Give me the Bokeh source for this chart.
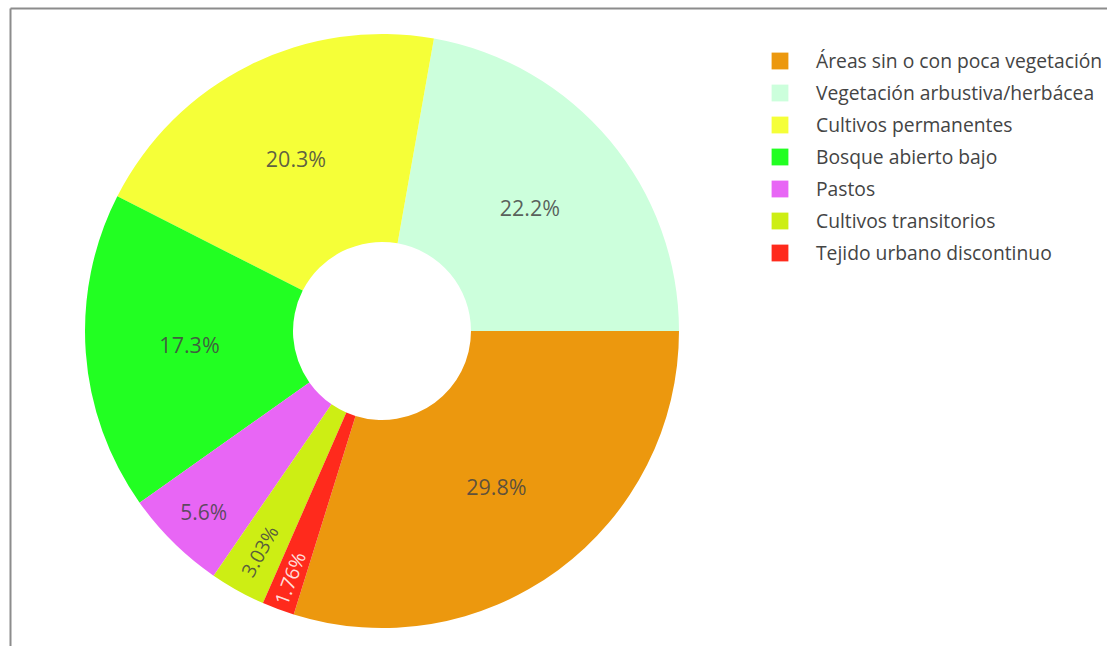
import math
from bokeh.plotting import figure
from bokeh.models import ColumnDataSource, Range1d, Legend, LegendItem
from bokeh.core.properties import value
from bokeh.embed import file_html
from bokeh.resources import INLINE

# ---- data ----
CATEGORIES = [
    "Áreas sin o con poca vegetación",
    "Vegetación arbustiva/herbácea",
    "Cultivos permanentes",
    "Bosque abierto bajo",
    "Pastos",
    "Cultivos transitorios",
    "Tejido urbano discontinuo",
]
VALUES = [29.8, 22.2, 20.3, 17.3, 5.6, 3.03, 1.76]
LABELS = ["29.8%", "22.2%", "20.3%", "17.3%", "5.6%", "3.03%", "1.76%"]

# ---- styles ----
COLORS = ["#EC980E", "#CCFFDC", "#F5FF38", "#22FF22", "#E866F5", "#CDEE14", "#FF2A1C"]
TEXT_COLORS = ["#444444"] * 6 + ["#FFFFFF"]
LABEL_RADIUS = [193, 193, 193, 193, 254, 252, 264]
LABEL_SIZES = ["21.5px", "21.5px", "21.5px", "21.5px", "21px", "19.5px", "19.5px"]

W, H = 1107, 646
CX, CY = 381.5, H - 330.5
R_OUT, R_IN = 297, 89
FONT = "Open Sans"

total = sum(VALUES)
start = -2 * math.pi * VALUES[0] / total
starts, ends, lx, ly, angs = [], [], [], [], []
a = start
for v, r in zip(VALUES, LABEL_RADIUS):
    da = 2 * math.pi * v / total
    starts.append(a)
    ends.append(a + da)
    mid = a + da / 2
    lx.append(CX + r * math.cos(mid))
    ly.append(CY + r * math.sin(mid))
    angs.append(mid - math.pi if v / total < 0.04 else 0.0)
    a += da

src = ColumnDataSource(dict(cat=CATEGORIES, start=starts, end=ends, color=COLORS,
                            lx=lx, ly=ly, lab=LABELS, tc=TEXT_COLORS, ang=angs,
                            fs=LABEL_SIZES))

p = figure(width=W, height=H, output_backend="svg", toolbar_location=None,
           x_range=Range1d(0, W), y_range=Range1d(0, H), min_border=0, tools="")
p.axis.visible = False
p.grid.visible = False
p.outline_line_color = None
p.background_fill_color = "white"

# page frame (left and top edges)
p.segment(x0=[10, 10], y0=[H - 8, H - 8], x1=[10, W], y1=[0, H - 8],
          line_color="#8c8c8c", line_width=2)

wr = p.annular_wedge(x=CX, y=CY, inner_radius=R_IN, outer_radius=R_OUT,
                     start_angle="start", end_angle="end", fill_color="color",
                     line_color=None, source=src)

p.text(x="lx", y="ly", text="lab", angle="ang", text_color="tc", text_alpha=0.85,
       text_align="center", text_baseline="middle", text_font=value(FONT),
       text_font_size="fs", source=src)

items = [LegendItem(label=c, renderers=[wr], index=i) for i, c in enumerate(CATEGORIES)]
legend = Legend(items=items, location=(769, 380), orientation="vertical",
                glyph_width=21, glyph_height=21, label_standoff=26, spacing=5,
                label_text_font=FONT, label_text_font_size="19.3px",
                label_text_color="#444444", background_fill_alpha=0,
                border_line_color=None, padding=0, margin=0)
p.add_layout(legend, "center")

open("out.html", "w").write(file_html(p, INLINE))
